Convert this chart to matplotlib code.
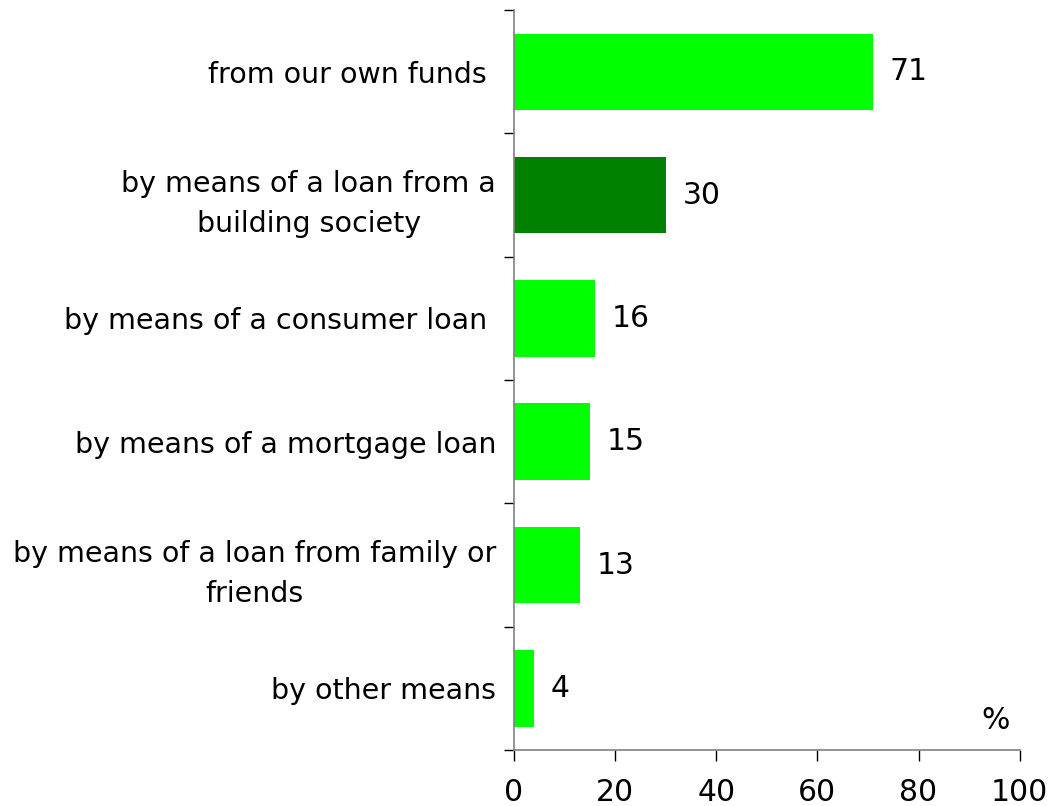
import matplotlib
matplotlib.use("Agg")
import matplotlib.pyplot as plt
import numpy as np

categories = [
    "from our own funds ",
    "by means of a loan from a\nbuilding society",
    "by means of a consumer loan ",
    "by means of a mortgage loan",
    "by means of a loan from family or\nfriends",
    "by other means",
]
values = [71, 30, 16, 15, 13, 4]
bar_colors = ["#00FF00", "#008000", "#00FF00", "#00FF00", "#00FF00", "#00FF00"]
x_ticks = [0, 20, 40, 60, 80, 100]

plt.rcParams['font.family'] = ['DejaVu Sans']
FS_CAT = 20.5
FS_NUM = 21.5

fig = plt.figure(figsize=(10.49, 8.06), dpi=100)
ax = fig.add_axes([0.49, 0.0695, 0.482, 0.918])

n = len(categories)
pos = np.arange(n)[::-1]  # first category at top
ax.barh(pos, values, height=0.62, color=bar_colors, edgecolor='none', zorder=2)

for p, v in zip(pos, values):
    ax.text(v + 3.3, p, str(v), va='center', ha='left', fontsize=FS_NUM, color='black')

ax.set_xlim(0, 100)
ax.set_ylim(-0.5, n - 0.5)

ax.set_xticks(x_ticks)
ax.set_xticklabels([str(t) for t in x_ticks], fontsize=FS_NUM)
ax.tick_params(axis='x', length=8, width=1, color='black', pad=12)

ax.set_yticks(pos)
ax.set_yticklabels(categories, fontsize=FS_CAT, multialignment='center', linespacing=1.55)
ax.tick_params(axis='y', which='major', length=0, pad=13)
ax.set_yticks(np.arange(-0.5, n, 1.0), minor=True)
ax.tick_params(axis='y', which='minor', length=7, width=1, color='black')

for s in ['top', 'right']:
    ax.spines[s].set_visible(False)
for s in ['left', 'bottom']:
    ax.spines[s].set_color('#808080')
    ax.spines[s].set_linewidth(1.2)

ax.text(92.5, -0.38, "%", fontsize=FS_NUM, ha='left', va='bottom')

fig.savefig("out.png", dpi=100, facecolor='white')
